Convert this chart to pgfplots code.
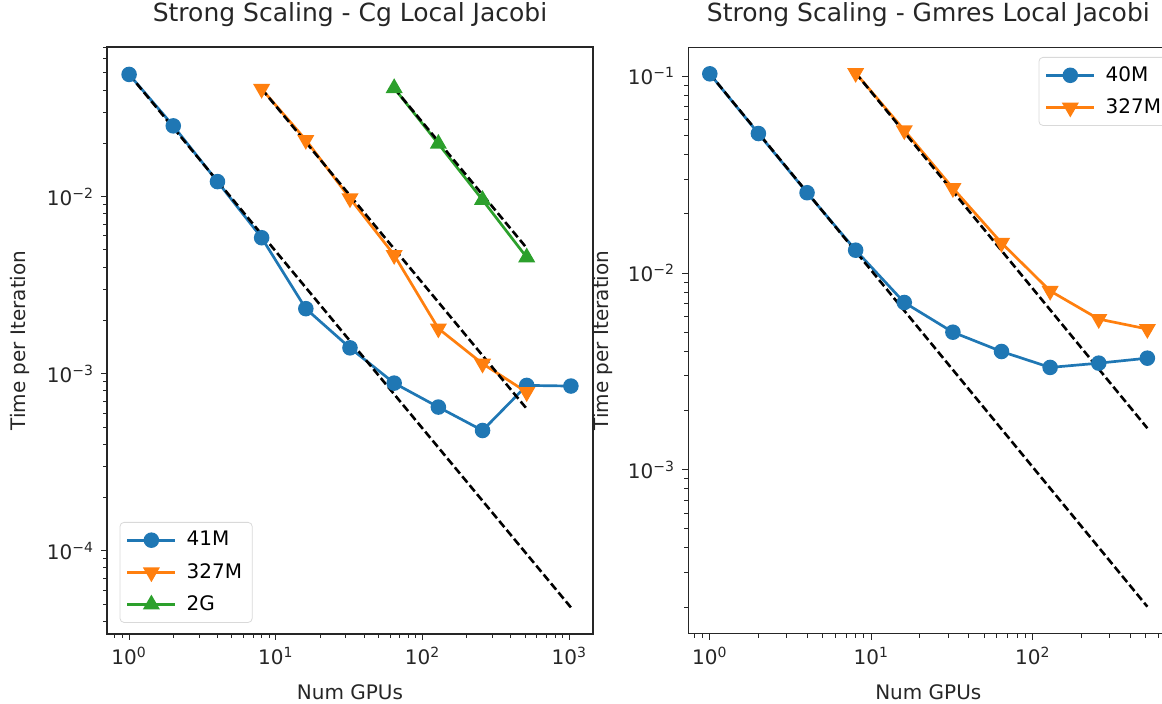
\documentclass[border=0pt]{standalone}
\usepackage{fontspec}
\setmainfont{DejaVu Sans}
\usepackage{pgfplots}
\pgfplotsset{compat=1.18}

\definecolor{tblue}{HTML}{1F77B4}
\definecolor{torange}{HTML}{FF7F0E}
\definecolor{tgreen}{HTML}{2CA02C}
\newcommand\tp[1]{10\textsuperscript{#1}}

\pgfplotsset{
  every axis/.append style={
    scale only axis,
    height=293.5pt,
    axis line style={line width=0.6pt, black!85},
    tick align=outside, major tick length=3pt, minor tick length=1.8pt,
    tick style={black!85, line width=0.5pt},
    xtick pos=left, ytick pos=left,
    tick label style={font=\fontsize{10}{12}\selectfont, text=black!85},
    label style={font=\fontsize{10}{12}\selectfont, text=black!85},
    title style={font=\fontsize{12.5}{14}\selectfont, text=black!85},
    ylabel style={at={(axis description cs:-0.18,0.5)}, anchor=center},
    legend cell align=left,
    legend image code/.code={\draw[mark repeat=2,mark phase=2] plot coordinates {(0pt,0pt) (12pt,0pt) (24pt,0pt)};},
    legend style={font=\fontsize{10}{12}\selectfont, draw=black!15, rounded corners=2pt,
      fill=white, inner xsep=3pt, inner ysep=2.5pt,
      row sep=3.2pt, /tikz/every odd column/.append style={column sep=3pt}},
  },
}
\tikzset{
  dat/.style={line width=1.35pt, #1, mark options={solid, fill=#1, draw=#1}},
  ideal/.style={black, line width=1.3pt, dash pattern=on 4pt off 1.8pt},
}

\begin{document}
\begin{tikzpicture}
\path[use as bounding box] (0,0) rectangle (581pt,352pt);

% ---- left: CG ----
\begin{loglogaxis}[
  at={(53.5pt,35pt)}, anchor=south west, width=243pt,
  xmin=0.707, xmax=1449, ymin=3.39e-5, ymax=0.070,
  xtick={1,10,100,1000}, xticklabels={\tp{0},\tp{1},\tp{2},\tp{3}},
  minor xtick={0.8,0.9,2,3,4,5,6,7,8,9,20,30,40,50,60,70,80,90,200,300,400,500,600,700,800,900},
  ytick={1e-4,1e-3,1e-2}, yticklabels={\tp{−4},\tp{−3},\tp{−2}},
  minor ytick={4e-5,5e-5,6e-5,7e-5,8e-5,9e-5,2e-4,3e-4,4e-4,5e-4,6e-4,7e-4,8e-4,9e-4,2e-3,3e-3,4e-3,5e-3,6e-3,7e-3,8e-3,9e-3,2e-2,3e-2,4e-2,5e-2,6e-2,7e-2},
  title={Strong Scaling - Cg Local Jacobi},
  title style={at={(axis description cs:0.5,1.034)}, anchor=center},
  xlabel={Num GPUs}, xlabel style={at={(axis description cs:0.5,-0.1)}, anchor=center},
  ylabel={Time per Iteration},
  legend style={at={(axis description cs:0.026,0.019)}, anchor=south west},
]
\addplot[dat=tblue, mark=*, mark size=3.2pt] coordinates {
  (1,0.049) (2,0.0251) (4,0.01216) (8,0.00586) (16,0.00233) (32,0.0014)
  (64,0.000885) (128,0.000648) (256,0.000478) (512,0.000859) (1024,0.000852)};
\addlegendentry{41M}
\addplot[ideal, forget plot] coordinates {(1,0.049) (1024,0.0000479)};
\addplot[dat=torange, mark=triangle*, mark size=3.6pt, mark options={rotate=180}] coordinates {
  (8,0.0406) (16,0.0209) (32,0.00978) (64,0.00468) (128,0.0018) (256,0.00114) (512,0.000787)};
\addlegendentry{327M}
\addplot[ideal, forget plot] coordinates {(8,0.0406) (512,0.000634)};
\addplot[dat=tgreen, mark=triangle*, mark size=3.6pt] coordinates {
  (64,0.041) (128,0.0199) (256,0.00958) (512,0.00454)};
\addlegendentry{2G}
\addplot[ideal, forget plot] coordinates {(64,0.041) (512,0.005125)};
\end{loglogaxis}

% ---- right: GMRES (cut at the right edge) ----
\begin{loglogaxis}[
  at={(344pt,35pt)}, anchor=south west, width=237pt,
  axis line style={draw=none},
  xmin=0.733, xmax=631, ymin=1.46e-4, ymax=0.141,
  xtick={1,10,100}, xticklabels={\tp{0},\tp{1},\tp{2}},
  minor xtick={0.8,0.9,2,3,4,5,6,7,8,9,20,30,40,50,60,70,80,90,200,300,400,500,600},
  ytick={1e-3,1e-2,1e-1}, yticklabels={\tp{−3},\tp{−2},\tp{−1}},
  minor ytick={2e-4,3e-4,4e-4,5e-4,6e-4,7e-4,8e-4,9e-4,2e-3,3e-3,4e-3,5e-3,6e-3,7e-3,8e-3,9e-3,2e-2,3e-2,4e-2,5e-2,6e-2,7e-2,8e-2,9e-2},
  title={Strong Scaling - Gmres Local Jacobi},
  title style={at={(axis description cs:0.507,1.034)}, anchor=center},
  xlabel={Num GPUs}, xlabel style={at={(axis description cs:0.507,-0.1)}, anchor=center},
  ylabel={Time per Iteration},
  legend style={at={(axis description cs:1.02,0.983)}, anchor=north east},
]
\draw[black!85, line width=0.6pt] (rel axis cs:1.05,1) -- (rel axis cs:0,1) -- (rel axis cs:0,0) -- (rel axis cs:1.05,0);
\addplot[dat=tblue, mark=*, mark size=3.2pt] coordinates {
  (1,0.103) (2,0.0512) (4,0.0256) (8,0.01306) (16,0.00708) (32,0.0050)
  (64,0.00399) (128,0.00331) (256,0.00348) (512,0.00369)};
\addlegendentry{40M}
\addplot[ideal, forget plot] coordinates {(1,0.103) (512,0.000201)};
\addplot[dat=torange, mark=triangle*, mark size=3.6pt, mark options={rotate=180}] coordinates {
  (8,0.104) (16,0.0532) (32,0.027) (64,0.01422) (128,0.00811) (256,0.00583) (512,0.00519)};
\addlegendentry{327M}
\addplot[ideal, forget plot] coordinates {(8,0.104) (512,0.001625)};
\end{loglogaxis}
\end{tikzpicture}
\end{document}
